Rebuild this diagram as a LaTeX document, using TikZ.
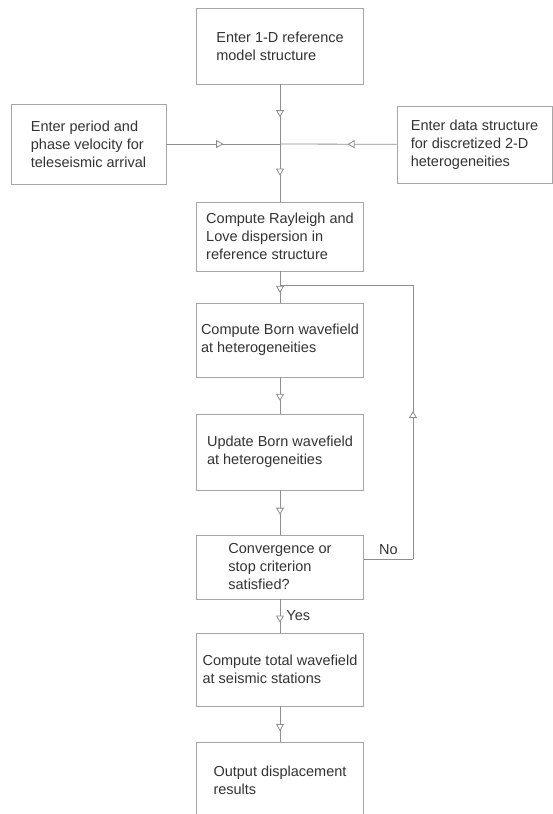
\documentclass[tikz,border=0pt]{standalone}
\usepackage{fontspec}
\setmainfont{Liberation Sans}
\usetikzlibrary{arrows.meta,decorations.markings}
\definecolor{boxline}{HTML}{A6A6A6}
\definecolor{wire}{HTML}{8E8E8E}
\definecolor{txt}{HTML}{333333}
\tikzset{
  stepbox/.style={draw=boxline, line width=0.9pt, fill=white, align=left,
    inner sep=0pt, minimum width=167pt, text=txt,
    font=\fontsize{14.5}{18}\selectfont},
  flowline/.style={draw=wire, line width=0.8pt},
  midarrow/.style={flowline, postaction={decorate},
    decoration={markings, mark=at position #1 with
      {\arrow{Triangle[length=7pt, width=8pt, fill=white]}}}},
  midarrow/.default=0.55,
  tag/.style={text=txt, inner sep=1pt, font=\fontsize{14.5}{18}\selectfont}
}

\begin{document}
\begin{tikzpicture}[x=1pt,y=-1pt]
  \useasboundingbox (0,0) rectangle (553,814);
  \clip (0,0) rectangle (553,814);

  % Input steps
  \node[stepbox, minimum height=76pt] (model) at (280,46)
    {Enter 1-D reference\\model structure};
  \node[stepbox, minimum width=155pt, minimum height=80pt] (period) at (88.5,144)
    {Enter period and\\phase velocity for\\teleseismic arrival};
  \node[stepbox, minimum width=155pt, minimum height=77pt] (hetero) at (474.5,144.5)
    {Enter data structure\\for discretized 2-D\\heterogeneities};
  \coordinate (join) at (280,144);

  % Iteration
  \node[stepbox, minimum height=69pt] (disp) at (280,236.5)
    {Compute Rayleigh and\\Love dispersion in\\reference structure};
  \coordinate (loop) at (280,285);
  \node[stepbox, minimum height=74pt] (born) at (280,340)
    {Compute Born wavefield\\at heterogeneities};
  \node[stepbox, minimum height=76pt] (update) at (280,452)
    {Update Born wavefield\\at heterogeneities};
  \node[stepbox, minimum height=64pt] (conv) at (280,567)
    {Convergence or\\stop criterion\\satisfied?};
  \coordinate (back) at (413,559);
  \coordinate (top) at (413,285);

  % Output
  \node[stepbox, minimum height=73pt] (total) at (280,669.5)
    {Compute total wavefield\\at seismic stations};
  \node[stepbox, minimum height=76pt] (result) at (280,780)
    {Output displacement\\results};

  \draw[midarrow] (model) -- (join);
  \draw[midarrow] (join) -- (disp);
  \draw[midarrow=0.5] (period) -- (join);
  \draw[midarrow=0.42] (hetero) -- (join);
  \draw[flowline] (disp) -- (loop);
  \draw[midarrow=0.45] (loop) -- (born);
  \draw[midarrow=0.65] (born) -- (update);
  \draw[midarrow] (update) -- (conv);
  \draw[midarrow=0.7] (conv) -- node[tag, right=5pt, pos=0.5] {Yes} (total);
  \draw[midarrow=0.7] (total) -- (result);
  \draw[flowline] (conv.east |- back) -- node[tag, above=3pt] {No} (back);
  \draw[midarrow=0.54] (back) -- (top);
  \draw[flowline] (top) -- (loop);
\end{tikzpicture}
\end{document}
